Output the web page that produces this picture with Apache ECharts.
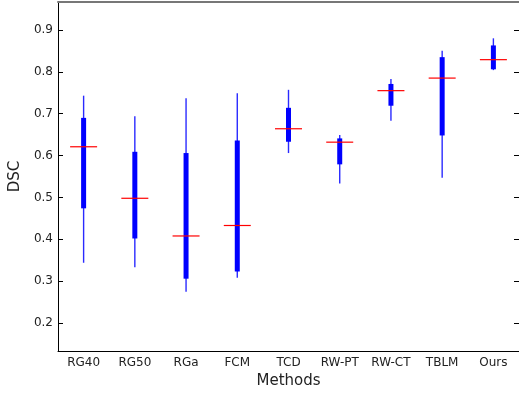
<!DOCTYPE html>
<html>
<head>
<meta charset="utf-8">
<script src="https://cdn.jsdelivr.net/npm/echarts@6/dist/echarts.min.js"></script>
<style>
  html, body { margin: 0; padding: 0; background: #fff; }
  #chart { width: 519px; height: 394px; }
</style>
</head>
<body>
<div id="chart"></div>
<script>
// methods on the x axis
var methods = ['RG40', 'RG50', 'RGa', 'FCM', 'TCD', 'RW-PT', 'RW-CT', 'TBLM', 'Ours'];
// box statistics
var whiskerLow  = [0.344, 0.333, 0.275, 0.308, 0.606, 0.533, 0.683, 0.547, 0.804];
var boxLow      = [0.474, 0.402, 0.306, 0.323, 0.633, 0.579, 0.719, 0.648, 0.806];
var medians     = [0.621, 0.498, 0.408, 0.433, 0.664, 0.632, 0.755, 0.785, 0.829];
var boxHigh     = [0.690, 0.609, 0.606, 0.636, 0.714, 0.641, 0.771, 0.835, 0.863];
var whiskerHigh = [0.743, 0.694, 0.737, 0.749, 0.757, 0.649, 0.783, 0.850, 0.880];
var yTicks = [0.2, 0.3, 0.4, 0.5, 0.6, 0.7, 0.8, 0.9];

var boxData = methods.map(function (m, i) {
    return [i, whiskerLow[i], boxLow[i], medians[i], boxHigh[i], whiskerHigh[i]];
});

function renderBox(params, api) {
    var i = api.value(0);
    var pLow = api.coord([i, api.value(1)]);
    var pQ1 = api.coord([i, api.value(2)]);
    var pMed = api.coord([i, api.value(3)]);
    var pQ3 = api.coord([i, api.value(4)]);
    var pHigh = api.coord([i, api.value(5)]);
    var x = pMed[0];
    var boxW = 5;
    var medW = 27;
    return {
        type: 'group',
        children: [
            {
                type: 'line',
                shape: { x1: x, y1: pHigh[1], x2: x, y2: pLow[1] },
                style: { stroke: '#2a2aff', lineWidth: 1.4 }
            },
            {
                type: 'rect',
                shape: { x: x - boxW / 2, y: pQ3[1], width: boxW, height: pQ1[1] - pQ3[1] },
                style: { fill: '#0000ff' }
            },
            {
                type: 'line',
                shape: { x1: x - medW / 2, y1: pMed[1], x2: x + medW / 2, y2: pMed[1] },
                style: { stroke: '#ff0000', lineWidth: 1.2 }
            }
        ]
    };
}

var font = 'DejaVu Sans, Liberation Sans, sans-serif';
var chart = echarts.init(document.getElementById('chart'));
chart.setOption({
    animation: false,
    backgroundColor: '#fff',
    textStyle: { fontFamily: font },
    grid: { left: 58, top: 2, width: 464, height: 350 },
    xAxis: [
        {
            type: 'category',
            data: methods,
            boundaryGap: true,
            name: 'Methods',
            nameLocation: 'middle',
            nameGap: 23,
            nameTextStyle: { fontSize: 15, color: '#222', fontFamily: font },
            axisLine: { lineStyle: { color: '#000', width: 1 } },
            axisTick: { show: false },
            axisLabel: { fontSize: 12, color: '#222', margin: 6, interval: 0, fontFamily: font },
            splitLine: { show: false }
        },
        {
            type: 'category',
            data: methods,
            position: 'top',
            axisLine: { lineStyle: { color: '#777', width: 2 } },
            axisTick: { show: false },
            axisLabel: { show: false }
        }
    ],
    yAxis: [
        {
            type: 'value',
            min: 0.1333,
            max: 0.9667,
            name: 'DSC',
            nameLocation: 'middle',
            nameGap: 33,
            nameTextStyle: { fontSize: 15, color: '#222', fontFamily: font },
            axisLine: { show: true, lineStyle: { color: '#000', width: 1 } },
            axisTick: { show: true, inside: true, length: 5, lineStyle: { color: '#000' }, customValues: yTicks },
            axisLabel: { fontSize: 12, color: '#222', margin: 5, customValues: yTicks, fontFamily: font, formatter: function (v) { return v.toFixed(1); } },
            splitLine: { show: false }
        },
        {
            type: 'value',
            min: 0.1333,
            max: 0.9667,
            position: 'right',
            axisLine: { show: true, lineStyle: { color: '#000' } },
            axisTick: { show: true, inside: true, length: 5, lineStyle: { color: '#000' }, customValues: yTicks },
            axisLabel: { show: false },
            splitLine: { show: false }
        }
    ],
    series: [{
        type: 'custom',
        renderItem: renderBox,
        encode: { x: 0, y: [1, 2, 3, 4, 5] },
        data: boxData
    }]
});
</script>
</body>
</html>
